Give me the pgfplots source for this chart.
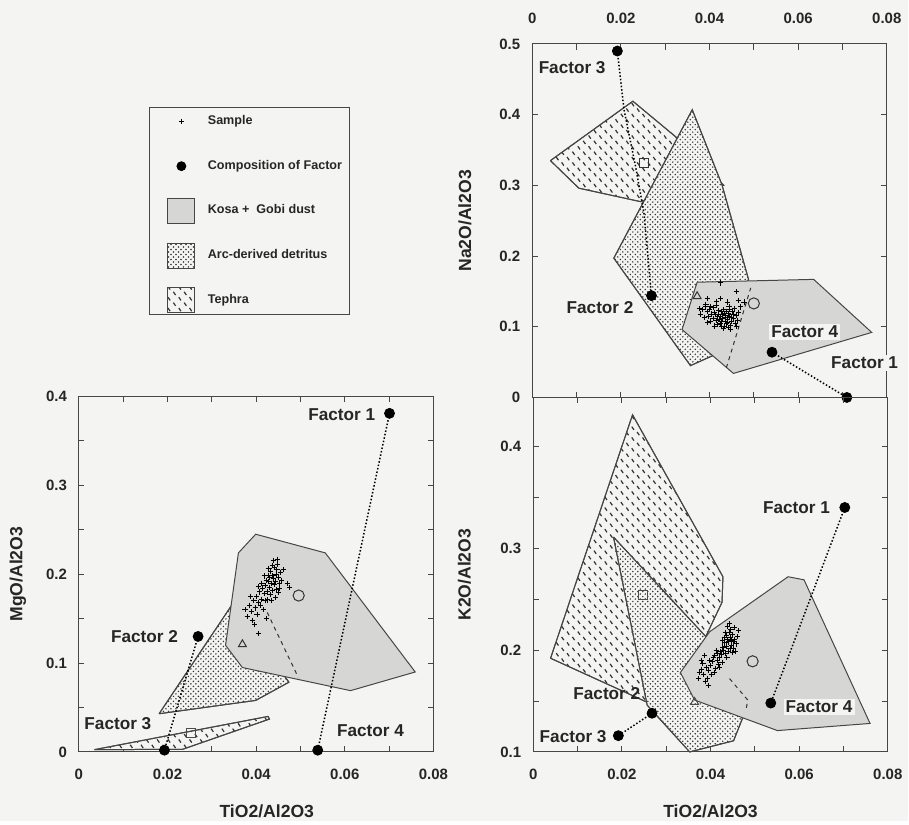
\documentclass[border=0pt]{standalone}
\usepackage{fontspec}
\setmainfont{Liberation Sans}
\usepackage{pgfplots}
\pgfplotsset{compat=1.18}
\usetikzlibrary{patterns}
\definecolor{bgc}{RGB}{244,244,242}
\definecolor{kosagray}{RGB}{214,214,212}
\definecolor{edgec}{RGB}{70,70,70}

\pgfdeclarepatternformonly{arcdots}{\pgfqpoint{-0.5pt}{-0.5pt}}{\pgfqpoint{3pt}{3pt}}{\pgfqpoint{2.5pt}{2.5pt}}{%
  \pgfpathcircle{\pgfqpoint{0.6pt}{0.6pt}}{0.42pt}%
  \pgfpathcircle{\pgfqpoint{1.85pt}{1.85pt}}{0.42pt}%
  \pgfusepath{fill}%
}
\pgfdeclarepatternformonly{tephra}{\pgfqpoint{-0.5pt}{-0.5pt}}{\pgfqpoint{6pt}{6pt}}{\pgfqpoint{5.4pt}{5.4pt}}{%
  \pgfsetlinewidth{0.6pt}%
  \pgfpathmoveto{\pgfqpoint{0.4pt}{2.3pt}}\pgfpathlineto{\pgfqpoint{1.5pt}{0.7pt}}%
  \pgfpathmoveto{\pgfqpoint{3.1pt}{5.0pt}}\pgfpathlineto{\pgfqpoint{4.2pt}{3.4pt}}%
  \pgfusepath{stroke}%
}

\tikzset{flab/.style={font=\fontsize{8.6}{10}\selectfont\bfseries, inner sep=1pt, text=black!85}}

\pgfplotsset{
  panel/.style={scale only axis, width=177.5pt, xmin=0, xmax=0.08, clip=false,
    scaled ticks=false,
    axis line style={edgec, line width=0.5pt},
    tick style={edgec, line width=0.5pt}, major tick length=2.8pt, minor tick length=2.8pt,
    xtick={0,0.02,0.04,0.06,0.08}, minor xtick={0.01,0.03,0.05,0.07},
    xticklabels={0,0.02,0.04,0.06,0.08},
    ticklabel style={font=\fontsize{7.5}{9}\selectfont\bfseries, text=black!85},
    yticklabel style={xshift=-2.5pt},
    label style={font=\fontsize{8.8}{10}\selectfont\bfseries, text=black!85},
  },
  kosa/.style={draw=edgec, line width=0.5pt, fill=kosagray},
  arc/.style={draw=edgec, line width=0.5pt, fill=bgc, postaction={pattern=arcdots, pattern color=black!80}},
  teph/.style={draw=edgec, line width=0.5pt, fill=bgc, postaction={pattern=tephra, pattern color=black!80}},
  fac/.style={only marks, mark=*, mark size=2.5pt, black},
  samp/.style={only marks, mark=+, mark size=1.3pt, black, mark options={line width=0.5pt}},
  tie/.style={densely dotted, line width=0.75pt, black},
  trend/.style={dash pattern=on 2pt off 2pt, line width=0.5pt, black!80},
  patchleg/.style={legend image code/.code={\pgfpathrectangle{\pgfpoint{0pt}{-6.25pt}}{\pgfpoint{19pt}{12.5pt}}\pgfusepath{use as bounding box}\draw[##1] (5.5pt,-6.25pt) rectangle (19pt,6.25pt);}},
  markleg/.style={legend image code/.code={\pgfpathrectangle{\pgfpoint{0pt}{-6.25pt}}{\pgfpoint{19pt}{12.5pt}}\pgfusepath{use as bounding box}\draw[##1] plot coordinates {(12.25pt,0pt)};}},
}

\begin{document}
\begin{tikzpicture}
\fill[bgc] (0,0) rectangle (454.5pt,411pt);

% ---------------- top right: Na2O ----------------
\begin{axis}[panel, at={(266.5pt,212pt)}, anchor=south west, height=177pt,
  ymin=0, ymax=0.5, ytick={0,0.1,0.2,0.3,0.4,0.5}, yticklabels={0,0.1,0.2,0.3,0.4,0.5},
  xticklabel pos=right, xticklabel style={yshift=6.5pt},
  ylabel={Na2O/Al2O3}, ylabel style={at={(axis description cs:-0.19,0.5)}, anchor=center}]
\addplot[teph] coordinates {(0.0041,0.335) (0.0227,0.419) (0.0323,0.369) (0.0432,0.300) (0.0244,0.277) (0.0105,0.296) (0.0041,0.335)};
\addplot[arc] coordinates {(0.0184,0.197) (0.0361,0.407) (0.0428,0.301) (0.0488,0.167) (0.0421,0.063) (0.0357,0.045) (0.0184,0.197)};
\addplot[kosa] coordinates {(0.0372,0.163) (0.0635,0.167) (0.0766,0.092) (0.0454,0.034) (0.0338,0.096) (0.0372,0.163)};
\addplot[samp] coordinates {
(0.0430,0.112) (0.0435,0.108) (0.0440,0.110) (0.0425,0.105) (0.0445,0.115) (0.0420,0.118) (0.0438,0.104) (0.0450,0.107)
(0.0428,0.121) (0.0415,0.109) (0.0442,0.119) (0.0455,0.111) (0.0433,0.100) (0.0418,0.114) (0.0447,0.102) (0.0460,0.116)
(0.0422,0.110) (0.0436,0.116) (0.0452,0.121) (0.0412,0.120) (0.0427,0.101) (0.0441,0.106) (0.0458,0.104) (0.0408,0.112)
(0.0431,0.124) (0.0446,0.125) (0.0419,0.103) (0.0463,0.109) (0.0437,0.113) (0.0424,0.115) (0.0449,0.113) (0.0434,0.119)
(0.0414,0.117) (0.0443,0.099) (0.0426,0.108) (0.0453,0.118) (0.0439,0.122) (0.0421,0.123) (0.0405,0.118) (0.0400,0.125)
(0.0395,0.121) (0.0390,0.128) (0.0398,0.114) (0.0385,0.124) (0.0380,0.118) (0.0392,0.132) (0.0402,0.129) (0.0388,0.113)
(0.0410,0.127) (0.0403,0.108) (0.0416,0.130) (0.0378,0.126) (0.0396,0.106) (0.0444,0.128) (0.0457,0.126) (0.0466,0.120)
(0.0470,0.128) (0.0416,0.136) (0.0395,0.140) (0.0425,0.140) (0.0440,0.135) (0.0465,0.137) (0.0478,0.135) (0.0425,0.162)
(0.0460,0.150) (0.0432,0.097) (0.0448,0.096) (0.0411,0.101) (0.0461,0.101) (0.0429,0.117)};
\addplot[tie] coordinates {(0.0192,0.490) (0.0207,0.407) (0.0233,0.327) (0.0252,0.261) (0.0263,0.185) (0.0269,0.144)};
\addplot[tie] coordinates {(0.0541,0.064) (0.0710,0.0)};
\addplot[trend] coordinates {(0.0438,0.042) (0.0493,0.155)};
\addplot[only marks, mark=o, mark size=2.8pt, black!80, mark options={line width=0.5pt}] coordinates {(0.0500,0.133)};
\addplot[only marks, mark=square, mark size=2.3pt, black!80, mark options={line width=0.5pt}] coordinates {(0.0252,0.332)};
\addplot[only marks, mark=triangle, mark size=2.3pt, black!80, mark options={line width=0.5pt}] coordinates {(0.0372,0.143)};
\addplot[fac] coordinates {(0.0192,0.490) (0.0269,0.144) (0.0541,0.064) (0.0710,0.0)};
\node[flab] at (axis cs:0.0090,0.466) {Factor 3};
\node[flab] at (axis cs:0.0153,0.127) {Factor 2};
\node[flab, fill=bgc] at (axis cs:0.0615,0.093) {Factor 4};
\node[flab, fill=bgc] at (axis cs:0.0750,0.049) {Factor 1};
\end{axis}

% ---------------- bottom right: K2O ----------------
\begin{axis}[panel, at={(267pt,34.5pt)}, anchor=south west, height=177.5pt,
  ymin=0.1, ymax=0.448, ytick={0.1,0.2,0.3,0.4}, yticklabels={0.1,0.2,0.3,0.4}, minor ytick={0.15,0.25,0.35},
  xticklabel style={yshift=-5pt},
  xlabel={TiO2/Al2O3}, xlabel style={at={(axis description cs:0.5,-0.168)}, anchor=center},
  ylabel={K2O/Al2O3}, ylabel style={at={(axis description cs:-0.194,0.5)}, anchor=center}]
\addplot[teph] coordinates {(0.0039,0.192) (0.0224,0.431) (0.0428,0.272) (0.0426,0.247) (0.0390,0.214) (0.0256,0.149) (0.0039,0.192)};
\addplot[arc] coordinates {(0.0181,0.311) (0.0390,0.213) (0.0473,0.134) (0.0452,0.111) (0.0353,0.100) (0.0257,0.146) (0.0181,0.311)};
\addplot[kosa] coordinates {(0.0332,0.178) (0.0398,0.218) (0.0575,0.272) (0.0611,0.269) (0.0760,0.128) (0.0551,0.121) (0.0364,0.151) (0.0332,0.178)};
\addplot[samp] coordinates {
(0.0440,0.208) (0.0445,0.212) (0.0435,0.204) (0.0450,0.215) (0.0438,0.210) (0.0448,0.205) (0.0442,0.217) (0.0430,0.200)
(0.0455,0.210) (0.0436,0.214) (0.0446,0.220) (0.0425,0.196) (0.0432,0.207) (0.0452,0.202) (0.0441,0.199) (0.0420,0.193)
(0.0428,0.203) (0.0447,0.209) (0.0434,0.197) (0.0458,0.206) (0.0415,0.190) (0.0423,0.199) (0.0410,0.195) (0.0418,0.186)
(0.0405,0.189) (0.0412,0.182) (0.0400,0.185) (0.0407,0.193) (0.0395,0.180) (0.0398,0.190) (0.0390,0.183) (0.0385,0.176)
(0.0393,0.172) (0.0380,0.181) (0.0388,0.169) (0.0375,0.178) (0.0402,0.176) (0.0383,0.187) (0.0372,0.172) (0.0395,0.165)
(0.0413,0.200) (0.0426,0.188) (0.0437,0.193) (0.0449,0.198) (0.0460,0.213) (0.0453,0.222) (0.0439,0.223) (0.0463,0.219)
(0.0431,0.212) (0.0444,0.202) (0.0416,0.197) (0.0421,0.183) (0.0408,0.178) (0.0433,0.217) (0.0456,0.199) (0.0379,0.190)
(0.0387,0.195) (0.0443,0.226) (0.0427,0.209) (0.0451,0.208)};
\addplot[tie] coordinates {(0.0703,0.340) (0.0536,0.148)};
\addplot[tie] coordinates {(0.0268,0.138) (0.0192,0.116)};
\addplot[trend] coordinates {(0.0443,0.172) (0.0484,0.151) (0.0480,0.141)};
\addplot[only marks, mark=o, mark size=2.8pt, black!80, mark options={line width=0.5pt}] coordinates {(0.0495,0.189)};
\addplot[only marks, mark=square, mark size=2.3pt, black!70, mark options={line width=0.5pt}] coordinates {(0.0248,0.254)};
\addplot[only marks, mark=triangle, mark size=2.3pt, black!70, mark options={line width=0.5pt}] coordinates {(0.0364,0.149)};
\addplot[fac] coordinates {(0.0703,0.340) (0.0536,0.148) (0.0268,0.138) (0.0192,0.116)};
\node[flab] at (axis cs:0.0594,0.340) {Factor 1};
\node[flab, fill=bgc] at (axis cs:0.0645,0.144) {Factor 4};
\node[flab] at (axis cs:0.0166,0.157) {Factor 2};
\node[flab] at (axis cs:0.0090,0.115) {Factor 3};
\end{axis}

% ---------------- bottom left: MgO ----------------
\begin{axis}[panel, at={(39.5pt,34.5pt)}, anchor=south west, height=178pt,
  ymin=0, ymax=0.4, ytick={0,0.1,0.2,0.3,0.4}, yticklabels={0,0.1,0.2,0.3,0.4}, minor ytick={0.05,0.15,0.25,0.35},
  xticklabel style={yshift=-5pt},
  xlabel={TiO2/Al2O3}, xlabel style={at={(axis description cs:0.53,-0.168)}, anchor=center},
  ylabel={MgO/Al2O3}, ylabel style={at={(axis description cs:-0.172,0.5)}, anchor=center},
  legend style={at={(0.199,1.8146)}, anchor=north west, draw=edgec, line width=0.5pt, fill=bgc,
    inner xsep=3.5pt, inner ysep=0.8pt, nodes={inner sep=0pt}, row sep=9.9pt, column sep=6.5pt,
    font=\fontsize{6.3}{7}\selectfont\bfseries, text=black!85},
  legend cell align=left]
\addlegendimage{samp, markleg}
\addlegendentry{Sample}
\addlegendimage{fac, mark size=2.2pt, markleg}
\addlegendentry{Composition of Factor}
\addlegendimage{kosa, patchleg}
\addlegendentry{Kosa + \ Gobi dust}
\addlegendimage{arc, patchleg}
\addlegendentry{Arc-derived detritus}
\addlegendimage{teph, patchleg}
\addlegendentry{Tephra}
\addplot[teph] coordinates {(0.0035,0.0026) (0.0427,0.040) (0.0430,0.037) (0.0234,0.003) (0.0035,0.0026)};
\addplot[arc] coordinates {(0.0181,0.043) (0.0350,0.169) (0.0414,0.120) (0.0474,0.0785) (0.0399,0.058) (0.0181,0.043)};
\addplot[kosa] coordinates {(0.0331,0.120) (0.0360,0.224) (0.0399,0.245) (0.0556,0.224) (0.0759,0.090) (0.0613,0.069) (0.0369,0.095) (0.0331,0.120)};
\addplot[samp] coordinates {
(0.0435,0.190) (0.0440,0.195) (0.0430,0.185) (0.0445,0.200) (0.0438,0.198) (0.0428,0.192) (0.0442,0.188) (0.0450,0.196)
(0.0433,0.203) (0.0447,0.205) (0.0425,0.180) (0.0436,0.182) (0.0420,0.187) (0.0441,0.208) (0.0452,0.190) (0.0431,0.196)
(0.0446,0.183) (0.0418,0.178) (0.0427,0.199) (0.0455,0.202) (0.0437,0.210) (0.0423,0.193) (0.0449,0.211) (0.0415,0.184)
(0.0432,0.177) (0.0443,0.192) (0.0412,0.172) (0.0408,0.180) (0.0405,0.168) (0.0400,0.175) (0.0410,0.165) (0.0398,0.162)
(0.0395,0.170) (0.0390,0.158) (0.0402,0.155) (0.0385,0.165) (0.0380,0.152) (0.0392,0.148) (0.0375,0.160) (0.0388,0.175)
(0.0416,0.160) (0.0420,0.170) (0.0426,0.171) (0.0458,0.193) (0.0461,0.205) (0.0453,0.184) (0.0439,0.215) (0.0444,0.174)
(0.0434,0.170) (0.0413,0.190) (0.0429,0.206) (0.0448,0.217) (0.0406,0.186) (0.0470,0.190) (0.0475,0.185) (0.0424,0.150)
(0.0406,0.133) (0.0396,0.143) (0.0419,0.198) (0.0451,0.179)};
\addplot[tie] coordinates {(0.0701,0.381) (0.0539,0.002)};
\addplot[tie] coordinates {(0.0269,0.130) (0.0193,0.002)};
\addplot[trend] coordinates {(0.0425,0.157) (0.0495,0.084)};
\addplot[only marks, mark=o, mark size=2.8pt, black!80, mark options={line width=0.5pt}] coordinates {(0.0496,0.176)};
\addplot[only marks, mark=square, mark size=2.3pt, black!70, mark options={line width=0.5pt}] coordinates {(0.0253,0.021)};
\addplot[only marks, mark=triangle, mark size=2.3pt, black!80, mark options={line width=0.5pt}] coordinates {(0.0369,0.121)};
\addplot[fac] coordinates {(0.0701,0.381) (0.0269,0.130) (0.0193,0.002) (0.0539,0.002)};
\node[flab] at (axis cs:0.0593,0.380) {Factor 1};
\node[flab] at (axis cs:0.0148,0.130) {Factor 2};
\node[flab] at (axis cs:0.0088,0.0315) {Factor 3};
\node[flab] at (axis cs:0.0658,0.0236) {Factor 4};
\end{axis}
\end{tikzpicture}
\end{document}
